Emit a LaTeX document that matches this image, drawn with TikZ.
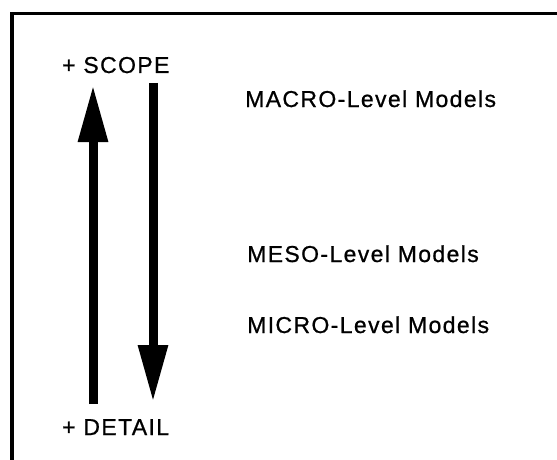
\documentclass[tikz,border=0pt]{standalone}
\usepackage{fontspec}
\setmainfont{Liberation Sans}
\newfontfamily\lblfont[LetterSpace=6,FakeBold=0.8]{Liberation Sans}
\usetikzlibrary{arrows.meta}
\begin{document}
\begin{tikzpicture}[x=1pt,y=-1pt,
  lbl/.style={font=\lblfont\fontsize{23pt}{26pt}\selectfont, inner sep=0pt, anchor=base west},
  bigarrow/.style={line width=9pt, -{Triangle[length=57pt,width=28pt]}},
  frameline/.style={line width=3.5pt}]
\useasboundingbox (0,0) rectangle (557,460);
\draw[frameline] (12,470) -- (12,13.5) -- (570,13.5);
\node[lbl] (scope) at (62,73) {+ SCOPE};
\node[lbl] (detail) at (62,435) {+ DETAIL};
\node[lbl] (macro) at (245,107) {MACRO-Level Models};
\node[lbl] (meso) at (247,262) {MESO-Level Models};
\node[lbl] (micro) at (247,333) {MICRO-Level Models};
\coordinate (upbot) at (93,404);
\coordinate (uptop) at (93,85);
\coordinate (dntop) at (153,83);
\coordinate (dnbot) at (153,402);
\draw[bigarrow] (upbot) -- (uptop);
\draw[bigarrow] (dntop) -- (dnbot);
\end{tikzpicture}
\end{document}
